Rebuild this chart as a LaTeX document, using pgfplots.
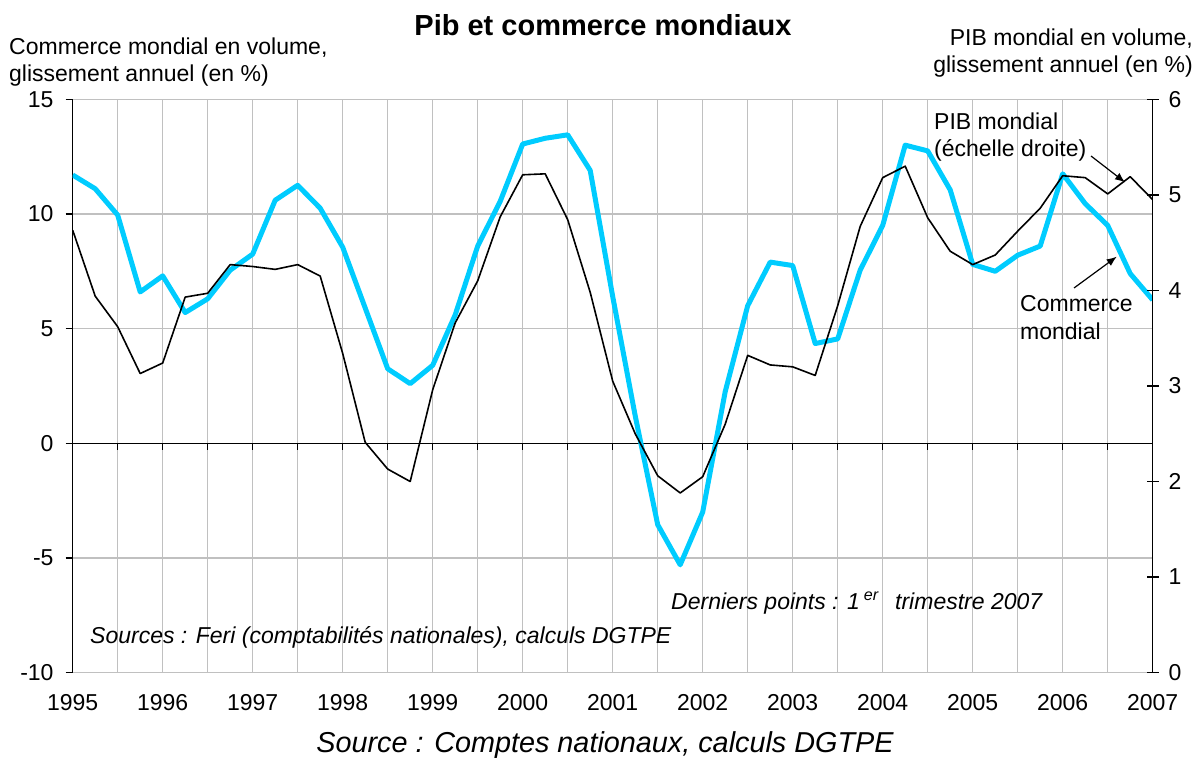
\documentclass[border=0pt]{standalone}
\usepackage{pgfplots}
\pgfplotsset{compat=1.18}
\usepackage{pgfplotstable}
\usepackage{fontspec}
\setmainfont{Liberation Sans}
\usetikzlibrary{arrows.meta}
\definecolor{cyanline}{RGB}{0,204,255}
\definecolor{gridgray}{RGB}{192,192,192}

% x = years since 1995 (quarterly); Commerce mondial (left axis)
\pgfplotstableread{
x y
0.00 11.70
0.25 11.10
0.50 9.95
0.75 6.60
1.00 7.30
1.25 5.70
1.50 6.30
1.75 7.55
2.00 8.25
2.25 10.60
2.50 11.25
2.75 10.25
3.00 8.55
3.25 5.90
3.50 3.25
3.75 2.60
4.00 3.40
4.25 5.60
4.50 8.60
4.75 10.55
5.00 13.05
5.25 13.30
5.50 13.45
5.75 11.90
6.00 6.40
6.25 1.20
6.50 -3.55
6.75 -5.30
7.00 -3.00
7.25 2.25
7.50 6.00
7.75 7.90
8.00 7.75
8.25 4.35
8.50 4.55
8.75 7.55
9.00 9.50
9.25 13.00
9.50 12.75
9.75 11.05
10.00 7.80
10.25 7.50
10.50 8.20
10.75 8.60
11.00 11.75
11.25 10.45
11.50 9.50
11.75 7.40
12.00 6.25
}\commerce

% PIB mondial (right axis)
\pgfplotstableread{
x y
0.00 4.63
0.25 3.94
0.50 3.62
0.75 3.13
1.00 3.24
1.25 3.93
1.50 3.97
1.75 4.27
2.00 4.25
2.25 4.22
2.50 4.27
2.75 4.15
3.00 3.34
3.25 2.41
3.50 2.13
3.75 2.00
4.00 2.96
4.25 3.66
4.50 4.10
4.75 4.77
5.00 5.21
5.25 5.22
5.50 4.74
5.75 3.98
6.00 3.05
6.25 2.50
6.50 2.06
6.75 1.88
7.00 2.05
7.25 2.60
7.50 3.32
7.75 3.22
8.00 3.20
8.25 3.11
8.50 3.84
8.75 4.67
9.00 5.18
9.25 5.30
9.50 4.76
9.75 4.41
10.00 4.27
10.25 4.37
10.50 4.62
10.75 4.86
11.00 5.20
11.25 5.18
11.50 5.01
11.75 5.19
12.00 4.95
}\pib

\begin{document}
\begin{tikzpicture}
\useasboundingbox (-72.7pt,-85.4pt) rectangle (1131.3pt,672.6pt);

\begin{axis}[
  at={(0pt,0pt)}, anchor=south west, scale only axis,
  width=1080pt, height=573.3pt,
  xmin=0, xmax=12, ymin=-10, ymax=15,
  xtick={0,...,12},
  xticklabels={1995,1996,1997,1998,1999,2000,2001,2002,2003,2004,2005,2006,2007},
  minor xtick={0.5,1.5,...,11.5},
  ytick={-10,-5,...,15},
  grid=both,
  major grid style={draw=gridgray, line width=1.3pt},
  minor grid style={draw=gridgray, line width=1.3pt},
  axis x line*=bottom, axis y line*=left,
  x axis line style={draw=gridgray, line width=1.3pt},
  y axis line style={draw=black, line width=1.3pt},
  major x tick style={draw=none}, minor x tick style={draw=none},
  ytick style={draw=black, line width=1.3pt},
  tick align=outside, major tick length=7pt,
  /pgf/number format/assume math mode=true,
  tick label style={font=\fontsize{23}{27}\selectfont},
  yticklabel style={anchor=east, inner sep=0pt, xshift=-12pt},
  xticklabel style={anchor=north, inner sep=0pt, yshift=-15pt},
]
\draw[black, line width=1.3pt] (axis cs:0,0) -- (axis cs:12,0);
\pgfplotsinvokeforeach{0,0.5,1,1.5,2,2.5,3,3.5,4,4.5,5,5.5,6,6.5,7,7.5,8,8.5,9,9.5,10,10.5,11,11.5,12}{
  \draw[black, line width=1.3pt] (axis cs:#1,0) -- ++(0pt,-7pt);
}
\addplot[cyanline, line width=5pt, line join=round] table[x=x,y=y]{\commerce};
\end{axis}

\begin{axis}[
  at={(0pt,0pt)}, anchor=south west, scale only axis,
  width=1080pt, height=573.3pt,
  xmin=0, xmax=12, ymin=0, ymax=6, ytick={0,...,6},
  axis y line*=right, axis x line=none,
  y axis line style={draw=black, line width=1.3pt},
  ytick style={draw=black, line width=1.3pt},
  tick align=center, major tick length=11.6pt,
  /pgf/number format/assume math mode=true,
  tick label style={font=\fontsize{23}{27}\selectfont},
  yticklabel style={anchor=west, inner sep=0pt, xshift=10pt},
]
\addplot[black, line width=1.6pt, line join=round] table[x=x,y=y]{\pib};
\end{axis}

% Titles and labels
\node[anchor=base, inner sep=0pt, font=\fontsize{29}{34}\selectfont\bfseries] at (530.3pt,636.6pt) {Pib et commerce mondiaux};
\node[anchor=base west, inner sep=0pt, font=\fontsize{23}{27}\selectfont] at (-63.7pt,617.6pt) {Commerce mondial en volume,};
\node[anchor=base west, inner sep=0pt, font=\fontsize{23}{27}\selectfont] at (-63.7pt,590.6pt) {glissement annuel (en \%)};
\node[anchor=base east, inner sep=0pt, font=\fontsize{23}{27}\selectfont] at (1120.3pt,626.6pt) {PIB mondial en volume,};
\node[anchor=base east, inner sep=0pt, font=\fontsize{23}{27}\selectfont] at (1120.3pt,599.6pt) {glissement annuel (en \%)};

% Annotations
\node[anchor=base west, inner sep=0pt, font=\fontsize{23}{27}\selectfont] at (861.3pt,543.1pt) {PIB mondial};
\node[anchor=base west, inner sep=0pt, font=\fontsize{23}{27}\selectfont] at (861.3pt,515.6pt) {(échelle droite)};
\draw[-{Latex[length=10pt,width=8pt]}, line width=1.2pt] (1018.3pt,516.6pt) -- (1052.3pt,490.3pt);
\node[anchor=base west, inner sep=0pt, font=\fontsize{23}{27}\selectfont] at (947.3pt,360.9pt) {Commerce};
\node[anchor=base west, inner sep=0pt, font=\fontsize{23}{27}\selectfont] at (947.3pt,332.6pt) {mondial};
\draw[-{Latex[length=10pt,width=8pt]}, line width=1.2pt] (1001.3pt,384.6pt) -- (1044.0pt,415.9pt);

\node[anchor=base west, inner sep=0pt, font=\fontsize{23}{27}\selectfont\itshape] at (598.3pt,63.3pt) {Derniers points : 1\hspace{4pt}\textsuperscript{er}\hspace{10pt} trimestre 2007};
\node[anchor=base west, inner sep=0pt, font=\fontsize{23}{27}\selectfont\itshape] at (17.3pt,29.3pt) {Sources : Feri (comptabilités nationales), calculs DGTPE};
\node[anchor=base, inner sep=0pt, font=\fontsize{28.8}{33}\selectfont\itshape] at (532.3pt,-79.4pt) {Source : Comptes nationaux, calculs DGTPE};
\end{tikzpicture}
\end{document}
